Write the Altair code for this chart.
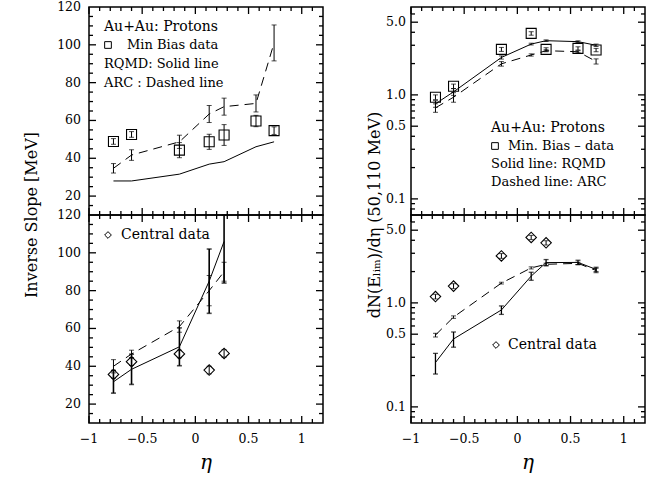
import altair as alt
import pandas as pd

FONT = "DejaVu Serif"
W, H = 234, 208

# ---------------- data ----------------
ETA_MB = [-0.77, -0.60, -0.15, 0.13, 0.27, 0.57, 0.74]
ETA_C = [-0.77, -0.60, -0.15, 0.13, 0.27]

# top-left: inverse slope, min bias
MB_SLOPE = [48.9, 52.6, 44.3, 48.7, 52.3, 59.7, 54.6]
MB_SLOPE_ERR = [1.5, 1.5, 4.0, 4.0, 5.5, 3.0, 2.0]
RQMD_MB_SLOPE = [28.0, 28.0, 31.6, 36.9, 38.2, 46.1, 48.7]
ARC_MB_SLOPE = [34.7, 41.7, 48.7, 63.4, 67.3, 69.0, 101.0]
ARC_MB_SLOPE_ERR = [2.5, 2.8, 3.5, 4.5, 4.5, 4.5, 9.5]

# bottom-left: inverse slope, central
C_SLOPE = [35.7, 42.4, 46.5, 38.0, 46.8]
C_SLOPE_ERR = [2.0, 2.0, 2.0, 2.0, 2.0]
RQMD_C_SLOPE = [31.8, 38.4, 50.3, 85.0, 106.0]
RQMD_C_SLOPE_ERR = [6.0, 8.0, 10.0, 17.0, 22.0]
ARC_C_SLOPE = [40.0, 46.5, 61.0, 80.0, 90.0]
ARC_C_SLOPE_ERR = [3.5, 2.0, 3.0, 8.0, 5.0]

# top-right: dN/deta, min bias
MB_DN = [0.95, 1.21, 2.74, 3.90, 2.74, 2.80, 2.70]
MB_DN_ERR = [0.05, 0.06, 0.12, 0.15, 0.10, 0.10, 0.10]
RQMD_MB_DN = [0.82, 1.07, 2.29, 3.08, 3.32, 3.25, 3.00]
RQMD_MB_DN_ERR = [0.06, 0.08, 0.08, 0.06, 0.06, 0.06, 0.08]
ARC_MB_DN = [0.75, 0.95, 1.99, 2.42, 2.66, 2.60, 2.10]
ARC_MB_DN_ERR = [0.07, 0.10, 0.10, 0.06, 0.06, 0.06, 0.12]

# bottom-right: dN/deta, central
C_DN = [1.15, 1.45, 2.83, 4.26, 3.78]
C_DN_ERR = [0.06, 0.08, 0.15, 0.20, 0.18]
RQMD_C_DN = [0.267, 0.45, 0.855, 1.81, 2.44, 2.45, 2.10]
RQMD_C_DN_ERR = [0.06, 0.075, 0.08, 0.16, 0.17, 0.12, 0.10]
ARC_C_DN = [0.49, 0.73, 1.55, 2.17, 2.35, 2.40, 2.05]
ARC_C_DN_ERR = [0.02, 0.02, 0.03, 0.05, 0.06, 0.06, 0.10]

# text
LEGEND_TL = ["Au+Au: Protons", "Min Bias data", "RQMD: Solid line", "ARC : Dashed line"]
LEGEND_TR = ["Au+Au: Protons", "Min. Bias \u2013 data", "Solid line: RQMD", "Dashed line: ARC"]
LEGEND_C = ["Central data", "Central  data"]
TITLE_SLOPE = "Inverse Slope [MeV]"
TITLE_DN = "dN(E\u2097\u1d62\u2098)/d\u03b7  (50,110 MeV)"
TITLE_X = "\u03b7"

# axis ticks
X_DOMAIN = [-1, 1.2]
SLOPE_DOMAIN = [10, 120]
DN_DOMAIN = [0.07, 7]
X_LABELS = [-1, -0.5, 0, 0.5, 1]
X_MAJOR = [-1, -0.5, 0, 0.5, 1]
X_MINOR = [v for v in [round(-1 + 0.1 * i, 1) for i in range(1, 22)] if v not in X_MAJOR]
SLOPE_MAJOR = [20, 40, 60, 80, 100]
SLOPE_MINOR = [v for v in range(15, 120, 5) if v % 20]
SLOPE_LABELS = [20, 40, 60, 80, 100, 120]
DN_LABELS = [0.1, 0.5, 1, 5]
DN_MAJOR = [0.1, 0.5, 1, 5]
DN_MINOR = [0.08, 0.09, 0.2, 0.3, 0.4, 0.6, 0.7, 0.8, 0.9, 2, 3, 4, 6]

X_SCALE = alt.Scale(domain=X_DOMAIN, nice=False, zero=False)
SLOPE_SCALE = alt.Scale(domain=SLOPE_DOMAIN, nice=False, zero=False, clamp=True)
DN_SCALE = alt.Scale(type="log", domain=DN_DOMAIN, nice=False, clamp=True)


def table(eta, val, err=None):
    d = pd.DataFrame({"eta": eta, "val": val})
    if err is not None:
        d["lo"] = [v - e for v, e in zip(val, err)]
        d["hi"] = [v + e for v, e in zip(val, err)]
    return d


class Panel:
    def __init__(self, yscale, ydomain, ylog):
        self.ys, self.yd, self.ylog = yscale, ydomain, ylog
        self.layers = []

    def X(self, field):
        return alt.X(f"{field}:Q", scale=X_SCALE, axis=None)

    def Y(self, field):
        return alt.Y(f"{field}:Q", scale=self.ys, axis=None)

    def _y_in(self, edge, px):
        lo, hi = self.yd
        if self.ylog:
            f = (hi / lo) ** (px / H)
            return lo * f if edge == lo else hi / f
        step = (hi - lo) * px / H
        return lo + step if edge == lo else hi - step

    def _x_in(self, edge, px):
        lo, hi = X_DOMAIN
        step = (hi - lo) * px / W
        return lo + step if edge == lo else hi - step

    def frame(self, y_major, y_minor):
        rule = dict(color="black", strokeWidth=1.3, opacity=1)
        # ticks along the bottom and top edges, pointing inwards
        for vals, ln in ((X_MAJOR, 7), (X_MINOR, 4)):
            rows = [(v, e, self._y_in(e, ln)) for v in vals for e in self.yd]
            df_t = pd.DataFrame({"tx": [r[0] for r in rows], "ty": [r[1] for r in rows],
                                 "ty2": [r[2] for r in rows]})
            self.layers.append(alt.Chart(df_t).mark_rule(**rule).encode(
                x=self.X("tx"), y=self.Y("ty"), y2="ty2:Q"))
        # ticks along the left and right edges, pointing inwards
        for vals, ln in ((y_major, 7), (y_minor, 4)):
            rows = [(e, self._x_in(e, ln), v) for v in vals for e in X_DOMAIN]
            df_t = pd.DataFrame({"tx": [r[0] for r in rows], "tx2": [r[1] for r in rows],
                                 "ty": [r[2] for r in rows]})
            self.layers.append(alt.Chart(df_t).mark_rule(**rule).encode(
                x=self.X("tx"), x2="tx2:Q", y=self.Y("ty")))

    def ylabels(self, values, fmt, pad):
        self.layers.append(alt.Chart(pd.DataFrame({"lab": values})).mark_text(
            align="right", baseline="middle", font=FONT, fontSize=12.5, color="black").encode(
            y=self.Y("lab"), x=alt.value(-pad), text=alt.Text("lab:Q", format=fmt)))

    def xlabels(self):
        self.layers.append(alt.Chart(pd.DataFrame({"lab": X_LABELS})).mark_text(
            align="center", baseline="middle", font=FONT, fontSize=12.5, color="black").encode(
            x=self.X("lab"), y=alt.value(H + 16), text=alt.Text("lab:Q", format="~g")))

    def title(self, label, x, y, size, angle=0, style="normal"):
        self.layers.append(alt.Chart(pd.DataFrame({"label": [label]})).mark_text(
            align="center", baseline="middle", font=FONT, fontSize=size, angle=angle,
            fontStyle=style, color="black").encode(
            text="label:N", x=alt.value(x), y=alt.value(y)))

    def points(self, df, shape, size):
        self.layers.append(alt.Chart(df).mark_point(
            shape=shape, filled=False, size=size, color="black", strokeWidth=1.1,
            opacity=1).encode(x=self.X("eta"), y=self.Y("val")))

    def errbars(self, df, width=1.0):
        self.layers.append(alt.Chart(df).mark_errorbar(
            ticks=True, size=5, thickness=width, color="black").encode(
            x=self.X("eta"), y=self.Y("lo"), y2="hi:Q"))

    def line(self, df, dashed):
        kw = dict(color="black", strokeWidth=1, clip=True)
        if dashed:
            kw["strokeDash"] = [9, 6]
        self.layers.append(alt.Chart(df).mark_line(**kw).encode(
            x=self.X("eta"), y=self.Y("val")))

    def text(self, label, x, y, size):
        self.layers.append(alt.Chart(pd.DataFrame({"label": [label]})).mark_text(
            align="left", baseline="middle", font=FONT, fontSize=size, color="black").encode(
            text="label:N", x=alt.value(x), y=alt.value(y)))

    def symbol(self, shape, x, y, size):
        self.layers.append(alt.Chart(pd.DataFrame({"label": [shape]})).mark_point(
            shape=shape, filled=False, size=size, color="black", strokeWidth=1,
            opacity=1).encode(x=alt.value(x), y=alt.value(y)))

    def chart(self):
        return alt.layer(*self.layers).properties(width=W, height=H)


# ---- top-left
d_mb = table(ETA_MB, MB_SLOPE, MB_SLOPE_ERR)
d_rq = table(ETA_MB, RQMD_MB_SLOPE)
d_arc = table(ETA_MB, ARC_MB_SLOPE, ARC_MB_SLOPE_ERR)
p = Panel(SLOPE_SCALE, SLOPE_DOMAIN, False)
p.frame(SLOPE_MAJOR, SLOPE_MINOR)
p.line(d_rq, False)
p.line(d_arc, True)
p.errbars(d_arc)
p.errbars(d_mb)
p.points(d_mb, "square", 100)
p.ylabels(SLOPE_LABELS, "d", 8)
p.title(TITLE_SLOPE, -57, H, 16, angle=270)
p.text(LEGEND_TL[0], 15, 20, 14)
p.symbol("square", 19, 38, 45)
p.text(LEGEND_TL[1], 38, 38, 13)
p.text(LEGEND_TL[2], 15, 57, 13)
p.text(LEGEND_TL[3], 15, 76, 13)
tl = p.chart()

# ---- bottom-left
d_c = table(ETA_C, C_SLOPE, C_SLOPE_ERR)
d_rqc = table(ETA_C, RQMD_C_SLOPE, RQMD_C_SLOPE_ERR)
d_arcc = table(ETA_C, ARC_C_SLOPE, ARC_C_SLOPE_ERR)
p = Panel(SLOPE_SCALE, SLOPE_DOMAIN, False)
p.frame(SLOPE_MAJOR, SLOPE_MINOR)
p.line(d_rqc, False)
p.line(d_arcc, True)
p.errbars(d_rqc, 1.6)
p.errbars(d_arcc)
p.errbars(d_c)
p.points(d_c, "diamond", 110)
p.ylabels(SLOPE_LABELS, "d", 8)
p.xlabels()
p.title(TITLE_X, W / 2, H + 40, 20, style="italic")
p.symbol("diamond", 19, 20, 45)
p.text(LEGEND_C[0], 32, 20, 14)
bl = p.chart()

# ---- top-right
d_mbd = table(ETA_MB, MB_DN, MB_DN_ERR)
d_rqd = table(ETA_MB, RQMD_MB_DN, RQMD_MB_DN_ERR)
d_arcd = table(ETA_MB, ARC_MB_DN, ARC_MB_DN_ERR)
p = Panel(DN_SCALE, DN_DOMAIN, True)
p.frame(DN_MAJOR, DN_MINOR)
p.line(d_rqd, False)
p.line(d_arcd, True)
p.errbars(d_rqd)
p.errbars(d_arcd)
p.errbars(d_mbd)
p.points(d_mbd, "square", 100)
p.ylabels(DN_LABELS, ".1f", 5)
p.title(TITLE_DN, -36, H, 16, angle=270)
p.text(LEGEND_TR[0], 80, 121, 14)
p.symbol("square", 84, 139, 45)
p.text(LEGEND_TR[1], 97, 139, 13)
p.text(LEGEND_TR[2], 80, 157, 13)
p.text(LEGEND_TR[3], 80, 175, 13)
tr = p.chart()

# ---- bottom-right
d_cd = table(ETA_C, C_DN, C_DN_ERR)
d_rqcd = table(ETA_MB, RQMD_C_DN, RQMD_C_DN_ERR)
d_arccd = table(ETA_MB, ARC_C_DN, ARC_C_DN_ERR)
p = Panel(DN_SCALE, DN_DOMAIN, True)
p.frame(DN_MAJOR, DN_MINOR)
p.line(d_rqcd, False)
p.line(d_arccd, True)
p.errbars(d_rqcd, 1.3)
p.errbars(d_arccd)
p.errbars(d_cd)
p.points(d_cd, "diamond", 110)
p.ylabels(DN_LABELS, ".1f", 5)
p.xlabels()
p.title(TITLE_X, W / 2, H + 40, 20, style="italic")
p.symbol("diamond", 85, 130, 45)
p.text(LEGEND_C[1], 97, 130, 14)
br = p.chart()

left = alt.vconcat(tl, bl, spacing=0, bounds="flush")
right = alt.vconcat(tr, br, spacing=0, bounds="flush")

chart = alt.hconcat(left, right, spacing=41).properties(
    padding={"left": 23, "top": 0, "right": 5, "bottom": 0}
).configure(background="white").configure_view(stroke="black", strokeWidth=1.5)

chart.save("out.html", embed_options={"renderer": "svg", "actions": False})
